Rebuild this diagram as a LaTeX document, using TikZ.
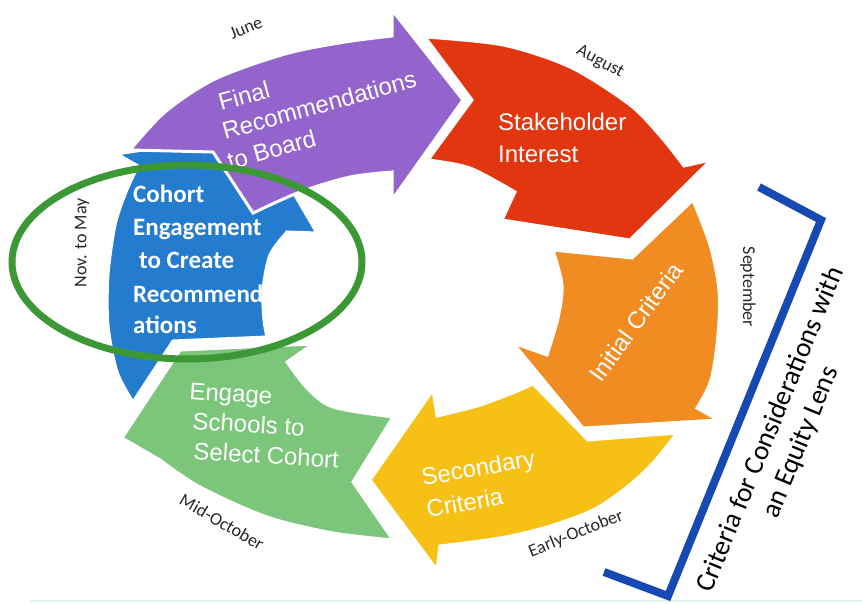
\documentclass[tikz,border=0pt]{standalone}
\usepackage{fontspec}
\newfontfamily\arialf{Liberation Sans}
\newfontfamily\calib{Carlito}
\definecolor{cblue}{RGB}{36,124,206}
\definecolor{cpurple}{RGB}{146,100,204}
\definecolor{cred}{RGB}{226,54,16}
\definecolor{corange}{RGB}{241,140,34}
\definecolor{cyellow}{RGB}{246,192,20}
\definecolor{cgreen}{RGB}{124,198,124}
\definecolor{cellipse}{RGB}{60,152,52}
\definecolor{cbracket}{RGB}{22,74,178}
\definecolor{cfaint}{RGB}{222,242,238}
\definecolor{cmonth}{RGB}{40,40,40}
\begin{document}
\begin{tikzpicture}[x=1pt,y=-1pt,
  seg/.style={draw=white, line width=3pt, line join=miter},
  lbl/.style={text=white, font=\arialf\fontsize{24}{29}\selectfont, inner sep=0pt, anchor=base west},
  bluelbl/.style={text=white, font=\calib\bfseries\fontsize{25}{30}\selectfont, inner sep=0pt, anchor=base west},
  month/.style={text=cmonth, font=\calib\fontsize{18}{21}\selectfont, inner sep=0pt},
  brk/.style={draw=cbracket, line width=8pt, line join=miter},
  oval/.style={draw=cellipse, line width=7pt}]
\useasboundingbox (0,0) rectangle (862,604);
\fill[white] (0,0) rectangle (862,604);
\draw[cfaint, line width=1.5pt] (30,601) -- (862,601);

% blue arrow (Cohort Engagement)
\path[seg, fill=cblue] (117,154) -- (258,132) -- (317,233) -- (287,232)
  -- plot[smooth] coordinates {(287,232) (270,255) (263,290) (264,320) (267,337)}
  -- (173,341) -- (133,402)
  -- plot[smooth] coordinates {(133,402) (117,372) (108,325) (108,275) (115,225) (126,192) (138,166)}
  -- cycle;
% purple arrow
\path[seg, fill=cpurple] (130,150)
  -- plot[smooth] coordinates {(130,150) (165,112) (215,79) (285,54) (345,42) (392,36)}
  -- (392,10) -- (463,100) -- (392,200) -- (392,172)
  -- plot[smooth] coordinates {(392,172) (350,177) (300,192) (253,213)}
  -- (213,152) -- cycle;
% red arrow
\path[seg, fill=cred] (425,37)
  -- plot[smooth] coordinates {(425,37) (503,45) (570,67) (630,105) (662,138) (684,166)}
  -- (711,160) -- (630,240) -- (502,220) -- (515,192)
  -- plot[smooth] coordinates {(515,192) (470,168) (428,160)}
  -- (472,100) -- cycle;
% orange arrow
\path[seg, fill=corange] (553,250) -- (632,258) -- (693,200)
  -- plot[smooth] coordinates {(693,200) (710,245) (719,290) (718,335) (711,380) (697,408)}
  -- (718,420) -- (583,428) -- (513,343) -- (547,355)
  -- plot[smooth] coordinates {(547,355) (558,318) (562,285) (553,250)}
  -- cycle;
% yellow arrow
\path[seg, fill=cyellow] (533,384) -- (588,440) -- (677,433)
  -- plot[smooth] coordinates {(677,433) (653,463) (627,487) (593,510) (547,527) (500,538) (440,546)}
  -- (437,570) -- (370,480) -- (433,390) -- (437,416)
  -- plot[smooth] coordinates {(437,416) (477,406) (510,394) (533,384)}
  -- cycle;
% green arrow
\path[seg, fill=cgreen] (393,417) -- (353,482) -- (393,540)
  -- plot[smooth] coordinates {(393,540) (333,533) (267,517) (200,487) (160,460)}
  -- (122,438) -- (180,350) -- (313,344) -- (287,362)
  -- plot[smooth] coordinates {(287,362) (307,388) (333,407) (393,417)}
  -- cycle;

% arrow texts
\node[lbl, rotate=15.5] (tFinal) at (221,111) {Final};
\node[lbl, rotate=15.5] (tRec) at (225,140) {Recommendations};
\node[lbl, rotate=15.5] (tBoard) at (230,170) {to Board};
\node[lbl] (tStake) at (498,131) {Stakeholder};
\node[lbl] (tInt) at (498,163) {Interest};
\node[lbl, rotate=54, anchor=base] (tInit) at (643,327) {Initial Criteria};
\node[lbl, rotate=10] (tSec) at (423,486) {Secondary};
\node[lbl, rotate=10] (tCrit) at (428,518) {Criteria};
\node[lbl, rotate=-3.7] (tEng) at (189,399) {Engage};
\node[lbl, rotate=-3.7] (tSch) at (192,429) {Schools to};
\node[lbl, rotate=-3.7] (tSel) at (193,459) {Select Cohort};
\node[bluelbl] (c1) at (133,203) {Cohort};
\node[bluelbl] (c2) at (133,236) {Engagement};
\node[bluelbl] (c3) at (139,269) {to Create};
\node[bluelbl] (c4) at (133,302) {Recommend};
\node[bluelbl] (c5) at (133,333) {ations};

% month labels
\node[month, rotate=22] (mJune) at (246,28) {June};
\node[month, rotate=-28] (mAug) at (600,62) {August};
\node[month, rotate=-90] (mSep) at (748,287) {September};
\node[month, rotate=22] (mEarly) at (576,534) {Early-October};
\node[month, rotate=-30] (mMid) at (222,522) {Mid-October};
\node[month, rotate=90] (mNov) at (82,243) {Nov. to May};

% highlight ellipse
\draw[oval] (187,262) ellipse [x radius=175, y radius=97];

% bracket
\coordinate (b1) at (759,187);
\coordinate (b2) at (821,220);
\coordinate (b3) at (668,596);
\coordinate (b4) at (604,572);
\draw[brk] (b1) -- (b2) -- (b3) -- (b4);
\node[text=black, font=\calib\fontsize{27.5}{33}\selectfont, align=center, rotate=67.7, inner sep=0pt] (eq) at (786,436) {Criteria for Considerations with\\an Equity Lens};
\end{tikzpicture}
\end{document}
